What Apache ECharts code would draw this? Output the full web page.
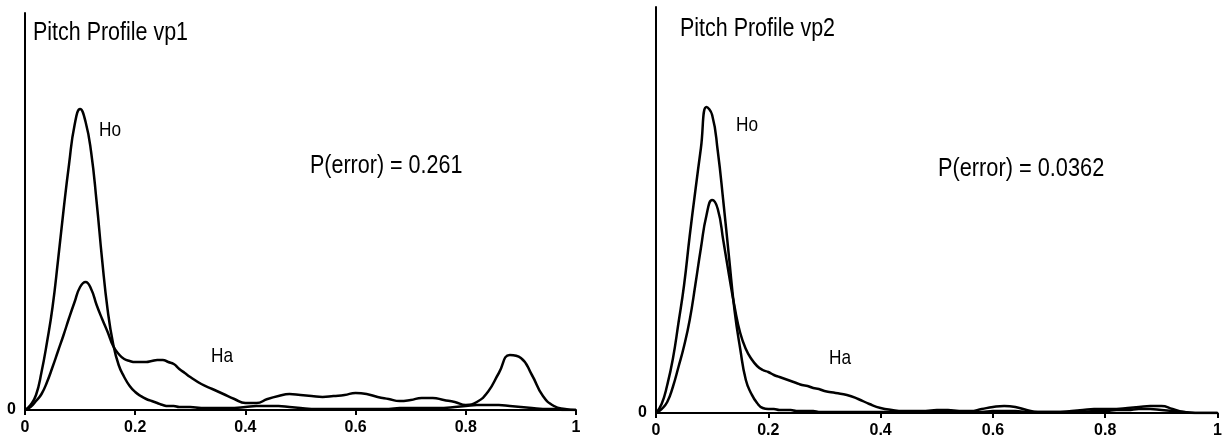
<!DOCTYPE html>
<html>
<head>
<meta charset="utf-8">
<script src="https://cdn.jsdelivr.net/npm/echarts@6/dist/echarts.min.js"></script>
<style>
html,body{margin:0;padding:0;background:#fff;}
#c{width:1225px;height:440px;}
</style>
</head>
<body>
<div id="c"></div>
<script>
// shared x positions (pitch profile, 0..1)
const xs = [0,0.01,0.02,0.03,0.04,0.05,0.06,0.07,0.08,0.09,0.10,0.11,0.12,0.13,0.14,0.15,0.16,0.17,0.18,0.19,0.20,0.21,0.22,0.23,0.24,0.25,0.26,0.27,0.28,0.29,0.30,
  0.32,0.34,0.36,0.38,0.40,0.42,0.44,0.46,0.48,0.50,0.52,0.54,0.56,0.58,0.60,0.62,0.64,0.66,0.68,0.70,0.72,0.74,0.76,0.78,0.80,0.82,0.84,0.86,0.88,0.90,0.92,0.94,0.96,0.98,1.00];

// vp1
const hoVp1 = [0,5,15,38,68,103,150,200,246,285,301,288,258,208,150,100,66,45,33,24,18,14,11,9,7,5,4,4,3,3,3,
  2,2,2,2,3,4,4,4,3,2,1,1,1,1,1,1,1,1,2,2,2,2,2,3,4,5,5,5,4,3,2,1,1,0,0];
const haVp1 = [0,3,9,16,28,43,59,75,92,108,123,128,121,105,91,78,64,56,51,49,48,48,48,49,50,50,48,46,41,37,33,
  26,21,16,11,7,7,11,14,16,15,14,13,14,15,17,16,13,11,9,10,12,12,10,8,5,8,18,37,55,52,35,14,4,1,0];

// vp2
const hoVp2 = [0,9,28,54,90,128,177,222,265,306,298,262,211,156,102,64,33,19,10,5,4,4,3,3,3,2,2,2,2,1,1,
  1,1,1,1,1,1,1,1,1,1,1,1,1,1,2,2,2,1,1,1,1,1,1,2,2,3,3,4,4,3,2,1,0,0,0];
const haVp2 = [0,4,11,26,46,67,93,128,165,198,213,204,172,138,106,80,64,54,47,43,41,38,36,34,32,30,28,27,25,24,22,
  20,18,14,9,5,3,2,2,2,3,3,2,2,4,6,7,6,3,1,1,1,2,3,4,4,4,5,6,7,7,4,1,0,0,0];

const xTicks = ['0','0.2','0.4','0.6','0.8','1'];
const panelTitles = ['Pitch Profile vp1','Pitch Profile vp2'];
const errorTexts = ['P(error) = 0.261','P(error) = 0.0362'];
const curveNames = ['Ho','Ha'];

function pairs(x, y){ return x.map((v,i)=>[v,y[i]]); }

const FONT = '"Liberation Sans",Arial,sans-serif';
const tickFont = {fontFamily: FONT, fontSize: 16, fontWeight: 'bold', color: '#000'};

function xAxis(gi){
  return {
    gridIndex: gi, type: 'value', min: 0, max: 1, interval: 0.2,
    axisLine: {show: true, onZero: false, lineStyle: {color: '#000', width: 2}},
    axisTick: {show: true, length: 5, lineStyle: {color: '#000', width: 2}},
    splitLine: {show: false},
    axisLabel: Object.assign({margin: 10, formatter: v => xTicks[Math.round(v/0.2)]}, tickFont)
  };
}
function yAxis(gi, max){
  return {
    gridIndex: gi, type: 'value', min: 0, max: max, interval: max,
    axisLine: {show: true, lineStyle: {color: '#000', width: 2}},
    axisTick: {show: false},
    splitLine: {show: false},
    axisLabel: Object.assign({margin: 9, formatter: v => v === 0 ? '0' : ''}, tickFont)
  };
}
function line(name, gi, data){
  return {
    name: name, type: 'line', xAxisIndex: gi, yAxisIndex: gi,
    data: data, showSymbol: false, smooth: 0.5, silent: true,
    lineStyle: {color: '#000', width: 2.5}, z: 3
  };
}
// narrow-looking text: regular face horizontally condensed
function txt(x, y, s, size, sx){
  return {type: 'text', x: x, y: y, scaleX: sx, scaleY: 1, silent: true,
    style: {text: s, x: 0, y: 0, fill: '#000', font: size + 'px ' + FONT, verticalAlign: 'middle', align: 'left'}};
}

const chart = echarts.init(document.getElementById('c'), null, {renderer: 'canvas'});
chart.setOption({
  backgroundColor: '#fff',
  animation: false,
  grid: [
    {left: 25, top: 13, width: 551, height: 397},
    {left: 656, top: 7, width: 563, height: 406}
  ],
  xAxis: [xAxis(0), xAxis(1)],
  yAxis: [yAxis(0, 397), yAxis(1, 406)],
  series: [
    line(curveNames[0], 0, pairs(xs, hoVp1)),
    line(curveNames[1], 0, pairs(xs, haVp1)),
    line(curveNames[0], 1, pairs(xs, hoVp2)),
    line(curveNames[1], 1, pairs(xs, haVp2))
  ],
  graphic: [
    txt(33, 33, panelTitles[0], 26, 0.825),
    txt(680, 29, panelTitles[1], 26, 0.825),
    txt(310, 166, errorTexts[0], 25, 0.86),
    txt(938, 169, errorTexts[1], 25, 0.87),
    txt(99, 130, curveNames[0], 21, 0.82),
    txt(211, 356, curveNames[1], 21, 0.82),
    txt(736, 125, curveNames[0], 21, 0.82),
    txt(829, 358, curveNames[1], 21, 0.82)
  ]
});
</script>
</body>
</html>
